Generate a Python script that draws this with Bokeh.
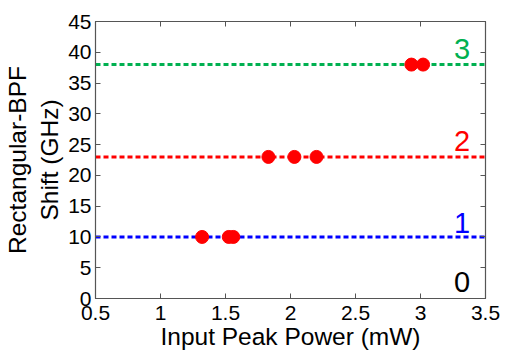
from bokeh.plotting import figure
from bokeh.models import LinearAxis, Range1d, FixedTicker
from bokeh.embed import file_html
from bokeh.resources import INLINE
from bokeh.core.properties import value

# data
power_1 = [1.32, 1.525, 1.56]
shift_1 = [10, 10, 10]
power_2 = [1.83, 2.03, 2.20]
shift_2 = [23, 23, 23]
power_3 = [2.93, 3.02]
shift_3 = [38, 38]
level_shifts = [10, 23, 38]
level_colors = ["#0000ff", "#ff0000", "#00b050"]
order_labels = ["0", "1", "2", "3"]
order_x = [3.32, 3.32, 3.32, 3.32]
order_y = [1.0, 10.7, 24.0, 38.9]
order_colors = ["#000000", "#0000ff", "#ff0000", "#00b050"]
x_ticks = [0.5, 1, 1.5, 2, 2.5, 3, 3.5]
y_ticks = [0, 5, 10, 15, 20, 25, 30, 35, 40, 45]

FONT = "Liberation Sans"
GRAY = "#555555"

p = figure(frame_width=390, frame_height=277, output_backend="svg", toolbar_location=None,
           x_range=Range1d(0.5, 3.5), y_range=Range1d(0, 45),
           min_border_left=93, min_border_right=21, min_border_top=21, min_border_bottom=56)
p.xgrid.visible = False
p.ygrid.visible = False
p.outline_line_color = GRAY
p.outline_line_width = 1.2

for ax in (p.xaxis[0], p.yaxis[0]):
    ax.major_tick_in = 5
    ax.major_tick_out = 0
    ax.minor_tick_in = 0
    ax.minor_tick_out = 0
    ax.axis_line_color = GRAY
    ax.major_tick_line_color = GRAY
    ax.major_label_text_font = FONT
    ax.major_label_text_font_size = "21px"
    ax.major_label_text_color = "black"
    ax.axis_label_text_font = FONT
    ax.axis_label_text_font_size = "24.5px"
    ax.axis_label_text_font_style = "normal"
    ax.axis_label_text_color = "black"

p.xaxis[0].ticker = FixedTicker(ticks=x_ticks)
p.yaxis[0].ticker = FixedTicker(ticks=y_ticks)
p.xaxis[0].axis_label = "Input Peak Power (mW)"
p.yaxis[0].axis_label = "Rectangular-BPF\nShift (GHz)"
p.xaxis[0].major_label_standoff = 7
p.yaxis[0].major_label_standoff = 4
p.xaxis[0].axis_label_standoff = 0
p.yaxis[0].axis_label_standoff = 2

top = LinearAxis(ticker=FixedTicker(ticks=x_ticks), major_label_text_font_size="0px",
                 major_tick_in=5, major_tick_out=0, minor_tick_in=0, minor_tick_out=0,
                 major_label_standoff=0,
                 axis_line_color=GRAY, major_tick_line_color=GRAY)
right = LinearAxis(ticker=FixedTicker(ticks=y_ticks), major_label_text_font_size="0px",
                   major_tick_in=5, major_tick_out=0, minor_tick_in=0, minor_tick_out=0,
                   major_label_standoff=0,
                   axis_line_color=GRAY, major_tick_line_color=GRAY)
top.major_label_text_color = None
right.major_label_text_color = None
p.add_layout(top, "above")
p.add_layout(right, "right")

for s, c in zip(level_shifts, level_colors):
    p.line([0.5, 3.5], [s, s], line_color=c, line_width=3, line_dash="5 3")

for xs, ys in ((power_1, shift_1), (power_2, shift_2), (power_3, shift_3)):
    p.scatter(xs, ys, size=13, fill_color="#ff0000", line_color="#ff0000")

p.text(x=order_x, y=order_y, text=order_labels, text_color=order_colors,
       text_font=value(FONT), text_font_size="29px", text_align="center",
       text_baseline="bottom")

open("out.html", "w").write(file_html(p, INLINE))
